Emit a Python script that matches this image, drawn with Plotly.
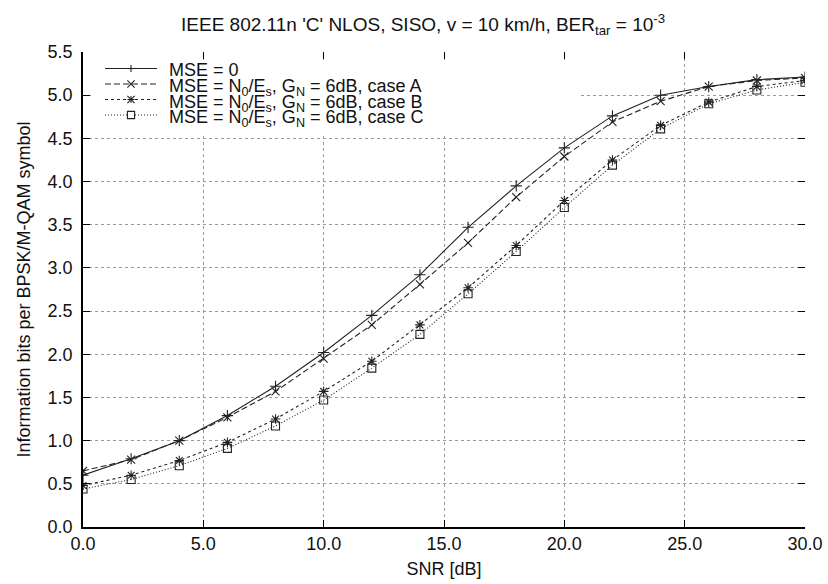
import plotly.graph_objects as go

snr = [0, 2, 4, 6, 8, 10, 12, 14, 16, 18, 20, 22, 24, 26, 28, 30]
mse0 = [0.60, 0.79, 1.00, 1.29, 1.63, 2.02, 2.45, 2.92, 3.47, 3.95, 4.39, 4.76, 5.00, 5.10, 5.18, 5.21]
case_a = [0.65, 0.78, 1.00, 1.27, 1.57, 1.95, 2.34, 2.81, 3.29, 3.82, 4.29, 4.69, 4.93, 5.10, 5.17, 5.20]
case_b = [0.48, 0.60, 0.77, 0.98, 1.25, 1.57, 1.92, 2.34, 2.77, 3.26, 3.78, 4.25, 4.65, 4.92, 5.10, 5.17]
case_c = [0.44, 0.55, 0.71, 0.91, 1.17, 1.47, 1.84, 2.23, 2.70, 3.19, 3.70, 4.19, 4.61, 4.90, 5.06, 5.15]

names = [
    "MSE = 0",
    "MSE = N<sub>0</sub>/E<sub>s</sub>, G<sub>N</sub> = 6dB, case A",
    "MSE = N<sub>0</sub>/E<sub>s</sub>, G<sub>N</sub> = 6dB, case B",
    "MSE = N<sub>0</sub>/E<sub>s</sub>, G<sub>N</sub> = 6dB, case C",
]
x_ticks = [0, 5, 10, 15, 20, 25, 30]
y_ticks = [0.0, 0.5, 1.0, 1.5, 2.0, 2.5, 3.0, 3.5, 4.0, 4.5, 5.0, 5.5]

series = [mse0, case_a, case_b, case_c]
dashes = ["solid", "6px,3px", "3px,3px", "1px,2px"]
symbols = ["cross-thin", "x-thin", "asterisk", "square-open"]
sizes = [8, 8, 8, 8]
col = "#222222"
font = "Liberation Sans, Arial, sans-serif"

W, H = 828, 584
L, R, T, B = 83, 23, 52, 57
PW, PH = W - L - R, H - T - B


def px(x):
    return (x - L) / PW


def py(y):
    return (H - B - y) / PH


fig = go.Figure()
for ys, nm, d, s, sz in zip(series, names, dashes, symbols, sizes):
    fig.add_trace(go.Scatter(
        x=snr, y=ys, name=nm, mode="lines+markers", showlegend=False,
        line=dict(color=col, width=1.1, dash=d),
        marker=dict(symbol=s, size=sz, color=col, line=dict(color=col, width=1.1)),
    ))

# ---- key drawn gnuplot-style (tight rows) ----
shapes = [dict(type="rect", xref="paper", yref="paper", x0=px(91), x1=px(580), y0=py(60), y1=py(135),
               fillcolor="white", line=dict(width=0), layer="above")]
annotations = []
row_y = [68.5, 84, 99.5, 115]
x_l0, x_l1, x_m, x_t = 105, 157, 131, 167
r = 3.6
for i, (nm, d) in enumerate(zip(names, dashes)):
    y = row_y[i]
    shapes.append(dict(type="line", xref="paper", yref="paper", x0=px(x_l0), x1=px(x_l1), y0=py(y), y1=py(y),
                       line=dict(color=col, width=1.1, dash=d), layer="above"))
    segs = []
    if i in (0, 2):
        segs += [((x_m - r, y), (x_m + r, y)), ((x_m, y - r), (x_m, y + r))]
    if i in (1, 2):
        segs += [((x_m - r, y - r), (x_m + r, y + r)), ((x_m - r, y + r), (x_m + r, y - r))]
    for (a, b) in segs:
        shapes.append(dict(type="line", xref="paper", yref="paper", x0=px(a[0]), y0=py(a[1]),
                           x1=px(b[0]), y1=py(b[1]), line=dict(color=col, width=1.1), layer="above"))
    if i == 3:
        shapes.append(dict(type="rect", xref="paper", yref="paper", x0=px(x_m - r), x1=px(x_m + r),
                           y0=py(y - r), y1=py(y + r), fillcolor="white",
                           line=dict(color=col, width=1.1), layer="above"))
    off = 1 if i == 0 else 3.5
    annotations.append(dict(text=nm, xref="paper", yref="paper", x=px(x_t), y=py(y + off),
                            xanchor="left", yanchor="middle", showarrow=False,
                            font=dict(size=18, family=font, color="#111")))

fig.update_layout(
    width=W, height=H,
    margin=dict(l=L, r=R, t=T, b=B),
    paper_bgcolor="white", plot_bgcolor="white",
    font=dict(family=font, size=18, color="#111"),
    title=dict(text="IEEE 802.11n 'C' NLOS, SISO, v = 10 km/h, BER<sub>tar</sub> = 10<sup>-3</sup>",
               x=0.511, xanchor="center", y=1 - 24 / H, yanchor="middle", font=dict(size=19)),
    showlegend=False,
    shapes=shapes, annotations=annotations,
    xaxis=dict(range=[0, 30], tickvals=x_ticks, ticktext=[f"{v:.1f}" for v in x_ticks],
               showline=True, linecolor="black", linewidth=1.5, ticks="inside", ticklen=7,
               tickcolor="black", showgrid=True, gridcolor="#999", griddash="dot", gridwidth=1,
               zeroline=False, ticklabelstandoff=0, tickfont=dict(size=18), automargin=False,
               title=dict(text="SNR [dB]", standoff=9, font=dict(size=18))),
    yaxis=dict(range=[0, 5.5], tickvals=y_ticks, ticktext=[f"{v:.1f}" for v in y_ticks],
               showline=True, linecolor="black", linewidth=1.5, ticks="inside", ticklen=7,
               tickcolor="black", showgrid=True, gridcolor="#999", griddash="dot", gridwidth=1,
               zeroline=False, ticklabelstandoff=5, tickfont=dict(size=18), automargin=False,
               title=dict(text="Information bits per BPSK/M-QAM symbol", standoff=12, font=dict(size=18))),
    xaxis2=dict(range=[0, 30], tickvals=x_ticks, overlaying="x", side="top", showticklabels=False,
                ticks="inside", ticklen=7, tickcolor="black", showgrid=False, showline=False,
                zeroline=False, automargin=False),
    yaxis2=dict(range=[0, 5.5], tickvals=y_ticks, overlaying="y", side="right", showticklabels=False,
                ticks="inside", ticklen=7, tickcolor="black", showgrid=False, showline=False,
                zeroline=False, automargin=False),
)
fig.add_trace(go.Scatter(x=[None], y=[None], xaxis="x2", yaxis="y2", showlegend=False, hoverinfo="skip"))

fig.write_html("out.html")
